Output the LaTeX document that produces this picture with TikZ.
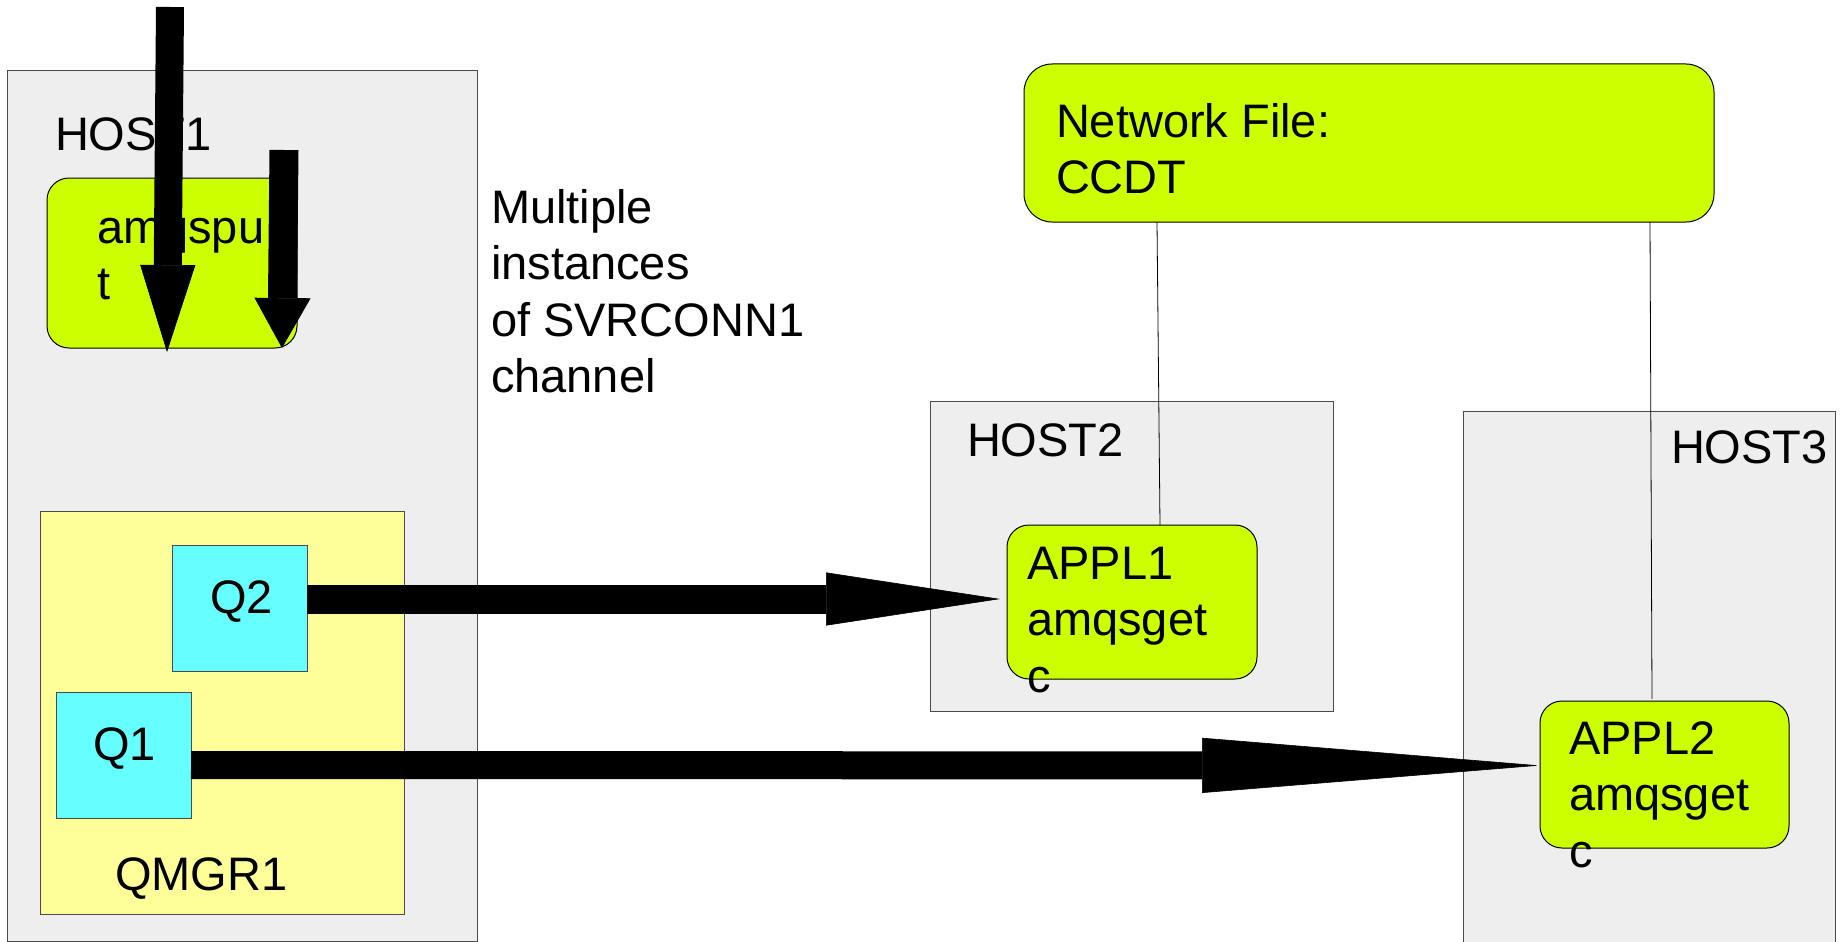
\documentclass[tikz,border=0pt]{standalone}
\usepackage{fontspec}
\setmainfont{Liberation Sans}
\usetikzlibrary{arrows.meta,calc}

\definecolor{hostgray}{HTML}{EEEEEE}
\definecolor{hostline}{HTML}{4A4A4A}
\definecolor{qmgryellow}{HTML}{FFFF99}
\definecolor{queuecyan}{HTML}{66FFFF}
\definecolor{applgreen}{HTML}{CCFF00}

% several lines of text, baseline of the node = baseline of the first line
\newcommand\stacklines[1]{\vtop{\baselineskip=56.5pt\halign{##\hfil\cr#1\crcr}}}

\tikzset{
  boxbase/.style={anchor=north west, inner sep=0pt, outer sep=0pt, line width=1pt},
  hostbox/.style={boxbase, draw=hostline, fill=hostgray},
  qmgrbox/.style={boxbase, draw=hostline, fill=qmgryellow},
  queuebox/.style={boxbase, draw=hostline, fill=queuecyan},
  applbox/.style={boxbase, draw=black, fill=applgreen, rounded corners=22pt},
  txt/.style={anchor=base west, inner sep=0pt, outer sep=0pt,
              font=\fontsize{47}{56.5}\selectfont},
  link/.style={draw=black, line width=0.8pt},
  flow/.style n args={3}{draw=black, line width=#1,
              -{Triangle[length=#2, width=#3, line width=0.6pt]}}
}

\begin{document}
\begin{tikzpicture}[x=1pt, y=-1pt]
\useasboundingbox (0,0) rectangle (1845,942);

% hosts
\node[hostbox, minimum width=470, minimum height=870] (host1) at (7,71) {};
\node[hostbox, minimum width=403, minimum height=310] (host2) at (930,401) {};
\node[hostbox, minimum width=372, minimum height=560] (host3) at (1463,411) {};

% queue manager and its queues
\node[qmgrbox, minimum width=364, minimum height=403] (qmgr1) at (40,511) {};
\node[queuebox, minimum width=135, minimum height=126] (q2) at (172,545) {};
\node[queuebox, minimum width=135, minimum height=126] (q1) at (56,692) {};

% applications and the channel table
\node[applbox, minimum width=250, minimum height=170] (amqsput) at (47,178) {};
\node[applbox, minimum width=250, minimum height=154] (appl1) at (1007,525) {};
\node[applbox, minimum width=249, minimum height=147] (appl2) at (1540,701) {};
\node[applbox, rounded corners=28pt, minimum width=690, minimum height=158] (ccdt) at (1024,64) {};

% labels
\node[txt] (host1txt) at (55,150) {HOST1};
\node[txt] (amqsputtxt) at (97,243) {\stacklines{amqspu\cr t}};
\node[txt] (qmgr1txt) at (115,890) {QMGR1};
\node[txt] (q2txt) at (210,613) {Q2};
\node[txt] (q1txt) at (93,760) {Q1};
\node[txt] (multitxt) at (491,223) {\stacklines{Multiple\cr instances\cr of SVRCONN1\cr channel}};
\node[txt] (ccdttxt) at (1056,137) {\stacklines{Network File:\cr CCDT}};
\node[txt] (host2txt) at (967,456) {HOST2};
\node[txt] (host3txt) at (1671,463) {HOST3};
\node[txt] (appl1txt) at (1027,579) {\stacklines{APPL1\cr amqsget\cr c}};
\node[txt] (appl2txt) at (1569,754) {\stacklines{APPL2\cr amqsget\cr c}};

% channel table links
\draw[link] ($(ccdt.south west)+(133,0)$) -- ($(appl1.north west)+(153,0)$);
\draw[link] ($(ccdt.south west)+(626,0)$) -- ($(appl2.north west)+(112,-2)$);

% message flows
\draw[flow={29pt}{174pt}{53pt}] ($(q2.east)+(0,-9)$) -- ($(appl1.west)+(-7,-3)$);
\draw[flow={28pt}{338pt}{55pt}] ($(q1.east)+(0,10)$) -- ($(appl2.west)+(0,-9)$);

% client connections into amqsput
\coordinate (src1) at (170,7);
\coordinate (src2) at (284,150);
\draw[flow={28pt}{87pt}{55pt}] (src1) -- ($(amqsput.south west)+(120,4)$);
\draw[flow={29pt}{50pt}{56pt}] (src2) -- ($(amqsput.south west)+(235,0)$);
\end{tikzpicture}
\end{document}
